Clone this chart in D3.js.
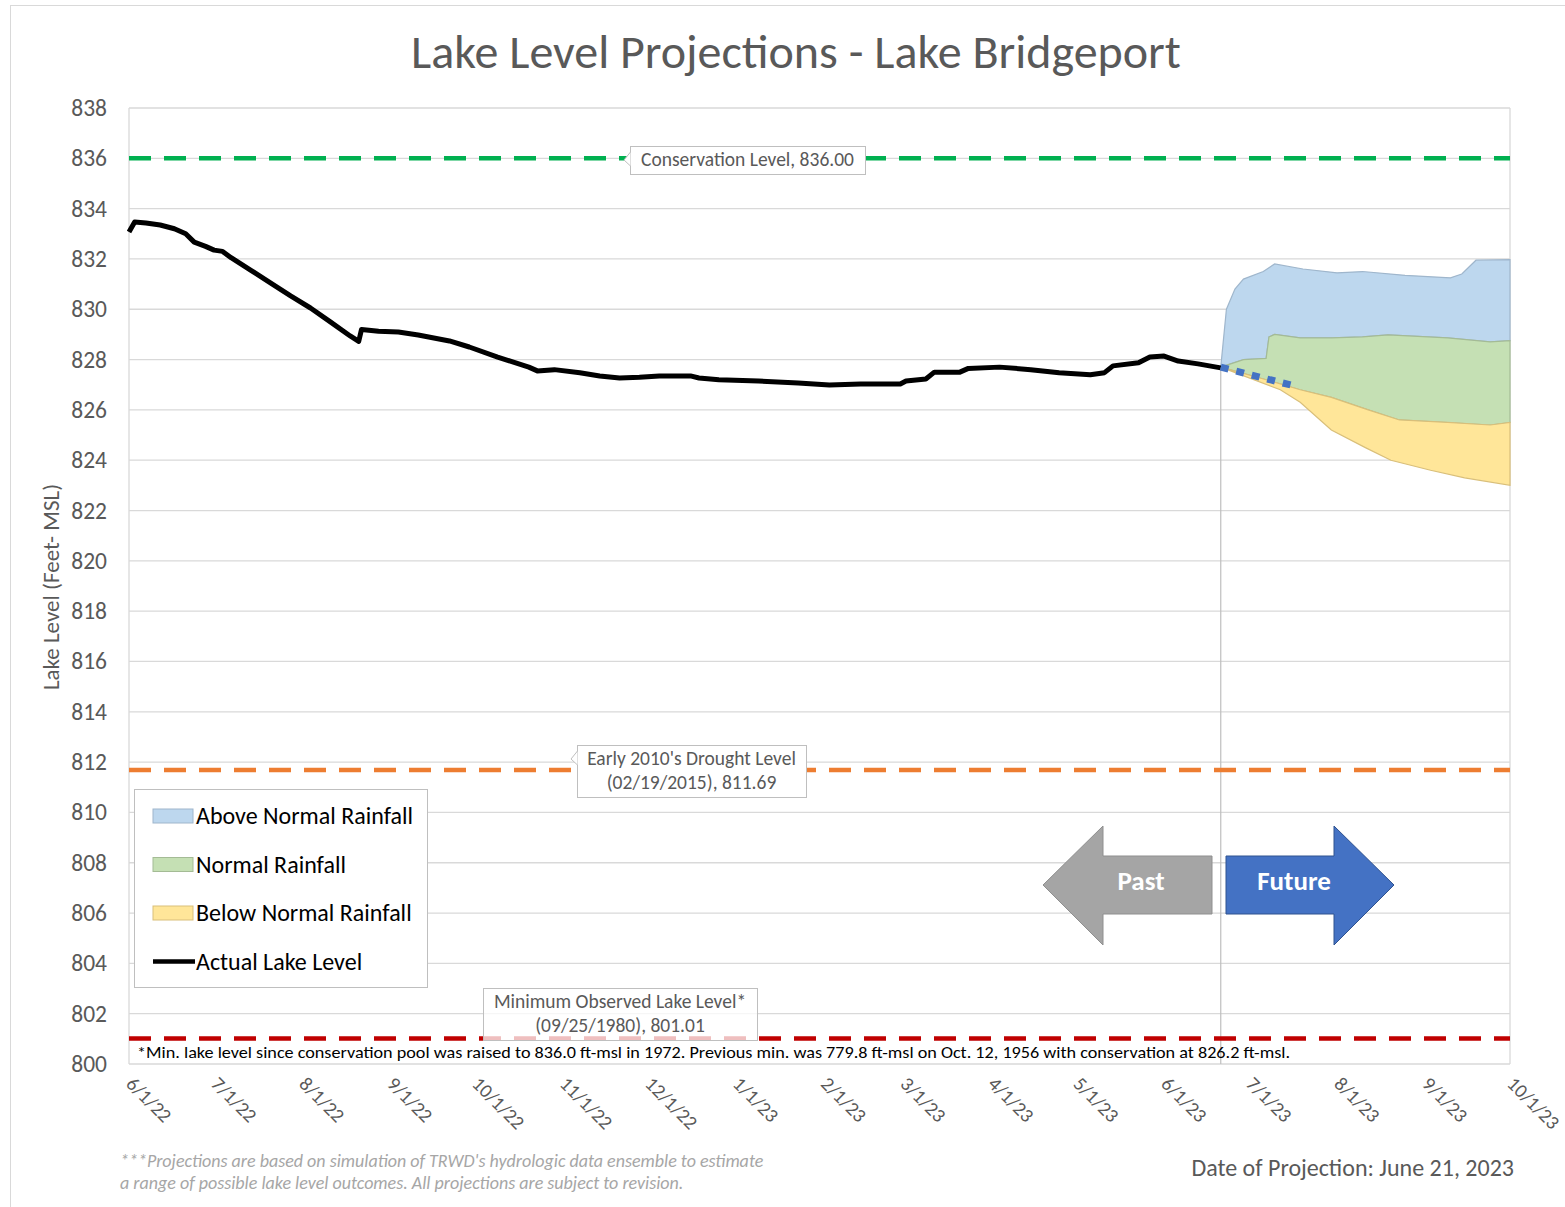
<!DOCTYPE html>
<html>
<head>
<meta charset="utf-8">
<script src="https://cdn.jsdelivr.net/npm/d3@7"></script>
<style>
body { margin: 0; background: #fff; }
text { font-family: Carlito, "Open Sans", sans-serif; }
</style>
</head>
<body>
<svg id="chart"></svg>
<script>
var svg = d3.select("#chart").attr("width", 1565).attr("height", 1207),
    margin = {top: 108, right: 55, bottom: 143, left: 129},
    width = +svg.attr("width") - margin.left - margin.right,
    height = +svg.attr("height") - margin.top - margin.bottom;

var parse = d3.timeParse("%m/%d/%y");

// actual lake level (ft-msl)
var actualLevel = [
	["6/1/22", 833.07], ["6/3/22", 833.47], ["6/7/22", 833.43], ["6/12/22", 833.35],
	["6/17/22", 833.2], ["6/21/22", 833.0], ["6/24/22", 832.67], ["6/28/22", 832.5],
	["7/1/22", 832.35], ["7/4/22", 832.3], ["7/7/22", 832.05], ["7/14/22", 831.55],
	["7/21/22", 831.04], ["7/28/22", 830.53], ["8/4/22", 830.05], ["8/11/22", 829.5],
	["8/18/22", 828.94], ["8/21/22", 828.72], ["8/22/22", 829.2], ["8/28/22", 829.13],
	["9/4/22", 829.1], ["9/11/22", 828.98], ["9/22/22", 828.74], ["9/29/22", 828.5],
	["10/9/22", 828.1], ["10/20/22", 827.7], ["10/23/22", 827.55], ["10/29/22", 827.6],
	["11/7/22", 827.48], ["11/14/22", 827.35], ["11/21/22", 827.27], ["11/28/22", 827.3],
	["12/5/22", 827.35], ["12/16/22", 827.35], ["12/19/22", 827.27], ["12/26/22", 827.2],
	["1/9/23", 827.15], ["1/23/23", 827.07], ["2/3/23", 826.99], ["2/14/23", 827.03],
	["2/28/23", 827.03], ["3/2/23", 827.15], ["3/9/23", 827.23], ["3/12/23", 827.5],
	["3/21/23", 827.5], ["3/24/23", 827.65], ["4/4/23", 827.7], ["4/15/23", 827.6],
	["4/25/23", 827.48], ["5/6/23", 827.4], ["5/11/23", 827.48], ["5/14/23", 827.75],
	["5/23/23", 827.87], ["5/27/23", 828.1], ["6/1/23", 828.14], ["6/6/23", 827.94],
	["6/13/23", 827.83], ["6/21/23", 827.67]
];

// projection band edges
var aboveTop = [
	["6/21/23", 827.7], ["6/23/23", 830.0], ["6/26/23", 830.8], ["6/29/23", 831.2],
	["7/6/23", 831.5], ["7/10/23", 831.8], ["7/20/23", 831.6], ["8/1/23", 831.45],
	["8/10/23", 831.5], ["8/25/23", 831.35], ["9/10/23", 831.25], ["9/14/23", 831.4],
	["9/19/23", 831.95], ["10/1/23", 831.97]
];
var normalTop = [
	["6/21/23", 827.7], ["6/29/23", 828.0], ["7/7/23", 828.05], ["7/8/23", 828.9],
	["7/10/23", 829.0], ["7/19/23", 828.86], ["7/30/23", 828.86], ["8/10/23", 828.9],
	["8/19/23", 828.98], ["9/9/23", 828.86], ["9/24/23", 828.7], ["10/1/23", 828.75]
];
var normalBottom = [
	["6/21/23", 827.7], ["7/7/23", 827.2], ["7/19/23", 826.8], ["7/30/23", 826.5],
	["8/12/23", 826.0], ["8/23/23", 825.6], ["9/9/23", 825.5], ["9/24/23", 825.4],
	["10/1/23", 825.5]
];
var belowBottom = [
	["6/21/23", 827.7], ["7/12/23", 826.8], ["7/19/23", 826.3], ["7/30/23", 825.2],
	["8/11/23", 824.5], ["8/20/23", 824.0], ["9/3/23", 823.6], ["9/15/23", 823.3],
	["10/1/23", 823.0]
];
var nearTerm = [["6/21/23", 827.7], ["7/17/23", 826.95]];

var projectionDate = "6/21/23";
var refLevels = [
	{value: 836.00, color: "#00b050", lines: ["Conservation Level, 836.00"]},
	{value: 811.69, color: "#ed7d31", lines: ["Early 2010's Drought Level", "(02/19/2015), 811.69"]},
	{value: 801.01, color: "#c00000", lines: ["Minimum Observed Lake Level*", "(09/25/1980), 801.01"]}
];
var xTicks = ["6/1/22", "7/1/22", "8/1/22", "9/1/22", "10/1/22", "11/1/22", "12/1/22", "1/1/23",
	"2/1/23", "3/1/23", "4/1/23", "5/1/23", "6/1/23", "7/1/23", "8/1/23", "9/1/23", "10/1/23"];
var yTicks = d3.range(800, 839, 2);
var legendNames = ["Above Normal Rainfall", "Normal Rainfall", "Below Normal Rainfall", "Actual Lake Level"];
var bandFills = ["#bdd7ee", "#c5e0b4", "#ffe699"];
var bandStrokes = ["#9fb6cc", "#a4bb95", "#d9bf7a"];

var xScale = d3.scaleTime()
	.domain([parse("6/1/22"), parse("10/1/23")])
	.range([0, width]);

var yScale = d3.scaleLinear()
	.domain([800, 838])
	.range([height, 0]);

// outer frame
svg.append("rect")
	.attr("x", 10.5).attr("y", 5.5)
	.attr("width", 1600).attr("height", 1250)
	.attr("fill", "none")
	.attr("stroke", "#d9d9d9");

svg.append("text")
	.attr("x", 796).attr("y", 68)
	.attr("text-anchor", "middle")
	.attr("font-size", 48)
	.attr("fill", "#595959")
	.text("Lake Level Projections - Lake Bridgeport");

var g = svg.append("g")
	.attr("transform", "translate(" + margin.left + "," + margin.top + ")");

// grid
g.selectAll(".grid")
	.data(yTicks)
	.enter()
	.append("line")
		.attr("class", "grid")
		.attr("x1", 0).attr("x2", width)
		.attr("y1", function(d){ return yScale(d); })
		.attr("y2", function(d){ return yScale(d); })
		.attr("stroke", "#d9d9d9")
		.attr("stroke-width", 1.3);

g.append("line")
	.attr("x1", 0).attr("x2", 0).attr("y1", 0).attr("y2", height)
	.attr("stroke", "#d9d9d9").attr("stroke-width", 1.3);
g.append("line")
	.attr("x1", width).attr("x2", width).attr("y1", 0).attr("y2", height)
	.attr("stroke", "#d9d9d9").attr("stroke-width", 1.3);

// y axis labels
g.selectAll(".ylab")
	.data(yTicks)
	.enter()
	.append("text")
		.attr("class", "ylab")
		.attr("x", -22)
		.attr("y", function(d){ return yScale(d) + 8; })
		.attr("text-anchor", "end")
		.attr("font-size", 23.5)
		.attr("fill", "#595959")
		.text(function(d){ return d; });

svg.append("g")
	.attr("transform", "translate(59," + 587 + ")")
	.append("text")
		.attr("transform", "rotate(-90)")
		.attr("text-anchor", "middle")
		.attr("font-size", 23)
		.attr("fill", "#595959")
		.text("Lake Level (Feet- MSL)");

// x labels
g.selectAll(".xlab")
	.data(xTicks)
	.enter()
	.append("text")
		.attr("class", "xlab")
		.attr("transform", function(d){
			return "translate(" + (xScale(parse(d)) - 4) + "," + (height + 21) + ") rotate(45)";
		})
		.attr("font-size", 19.5)
		.attr("fill", "#595959")
		.text(function(d){ return d; });

// projection bands
function pts(arr){
	return arr.map(function(d){ return [xScale(parse(d[0])), yScale(d[1])]; });
}
var bandLine = d3.line();
var bands = [
	{top: aboveTop, bottom: normalTop},
	{top: normalTop, bottom: normalBottom},
	{top: normalBottom, bottom: belowBottom}
];
g.selectAll(".band")
	.data(bands)
	.enter()
	.append("path")
		.attr("class", "band")
		.attr("d", function(d){
			return bandLine(pts(d.top).concat(pts(d.bottom).reverse())) + "Z";
		})
		.attr("fill", function(d, i){ return bandFills[i]; })
		.attr("stroke", function(d, i){ return bandStrokes[i]; })
		.attr("stroke-width", 1.2);

// projection date marker
var projX = xScale(parse(projectionDate));
g.append("line")
	.attr("x1", projX).attr("x2", projX)
	.attr("y1", yScale(827.7)).attr("y2", height)
	.attr("stroke", "#bfbfbf").attr("stroke-width", 1.2);

// reference levels
g.selectAll(".ref")
	.data(refLevels)
	.enter()
	.append("line")
		.attr("class", "ref")
		.attr("x1", 0).attr("x2", width)
		.attr("y1", function(d){ return yScale(d.value); })
		.attr("y2", function(d){ return yScale(d.value); })
		.attr("stroke", function(d){ return d.color; })
		.attr("stroke-width", 4.5)
		.attr("stroke-dasharray", "22,13");

// actual level
var line = d3.line()
	.x(function(d){ return xScale(parse(d[0])); })
	.y(function(d){ return yScale(d[1]); });

g.append("path")
	.datum(actualLevel)
	.attr("d", line)
	.attr("fill", "none")
	.attr("stroke", "#000")
	.attr("stroke-width", 5)
	.attr("stroke-linejoin", "round");

g.append("path")
	.datum(nearTerm)
	.attr("d", line)
	.attr("fill", "none")
	.attr("stroke", "#4472c4")
	.attr("stroke-width", 7)
	.attr("stroke-dasharray", "8,8");

// reference labels
var boxes = [
	{x: 630, y: 146, w: 235, h: 28},
	{x: 577, y: 745, w: 229, h: 52},
	{x: 483, y: 988, w: 274, h: 52}
];
refLevels.forEach(function(r, i){
	var b = boxes[i];
	var lab = svg.append("g");
	lab.append("rect")
		.attr("x", b.x + 0.5).attr("y", b.y + 0.5)
		.attr("width", b.w).attr("height", b.h)
		.attr("fill", "#fff").attr("fill-opacity", i == 2 ? 0.75 : 1)
		.attr("stroke", "#bfbfbf");
	if (i < 2)
		lab.append("path")
			.attr("d", "M" + (b.x + 0.5) + "," + (b.y + 6) + " L" + (b.x - 6) + "," + (b.y + 14) + " L" + (b.x + 0.5) + "," + (b.y + 20))
			.attr("fill", "#fff")
			.attr("stroke", "#bfbfbf");
	lab.selectAll("text")
		.data(r.lines)
		.enter()
		.append("text")
			.attr("x", b.x + b.w/2)
			.attr("y", function(d, k){ return b.y + 20 + k*24; })
			.attr("text-anchor", "middle")
			.attr("font-size", 19.5)
			.attr("fill", "#595959")
			.text(function(d){ return d; });
});

svg.append("text")
	.attr("x", 137).attr("y", 1058)
	.attr("font-size", 16)
	.attr("fill", "#000")
	.attr("textLength", 1153)
	.attr("lengthAdjust", "spacingAndGlyphs")
	.text("*Min. lake level since conservation pool was raised to 836.0 ft-msl in 1972.  Previous min. was 779.8 ft-msl on Oct. 12, 1956 with conservation at 826.2 ft-msl.");

// legend
var legend = svg.append("g").attr("transform", "translate(134,789)");
legend.append("rect")
	.attr("x", 0.5).attr("y", 0.5)
	.attr("width", 293).attr("height", 198)
	.attr("fill", "#fff")
	.attr("stroke", "#bfbfbf");
var item = legend.selectAll(".legend")
	.data(legendNames)
	.enter()
	.append("g")
		.attr("class", "legend")
		.attr("transform", function(d, i){ return "translate(0," + (27 + i*48.5) + ")"; });
item.append("rect")
	.filter(function(d, i){ return i < 3; })
	.attr("x", 19).attr("y", -7)
	.attr("width", 40).attr("height", 14)
	.attr("fill", function(d, i){ return bandFills[i]; })
	.attr("stroke", function(d, i){ return bandStrokes[i]; });
item.filter(function(d, i){ return i == 3; })
	.append("line")
	.attr("x1", 19).attr("x2", 61)
	.attr("stroke", "#000").attr("stroke-width", 4.5);
item.append("text")
	.attr("x", 62).attr("y", 8)
	.attr("font-size", 24)
	.attr("fill", "#000")
	.text(function(d){ return d; });

// past / future arrows
svg.append("path")
	.attr("d", "M1043,885 L1103,826 L1103,856 L1212,856 L1212,914 L1103,914 L1103,945 Z")
	.attr("fill", "#a5a5a5").attr("stroke", "#8f8f8f");
svg.append("path")
	.attr("d", "M1226,856 L1334,856 L1334,826 L1394,885 L1334,945 L1334,914 L1226,914 Z")
	.attr("fill", "#4472c4").attr("stroke", "#2f528f");
svg.append("text")
	.attr("x", 1141).attr("y", 890)
	.attr("text-anchor", "middle")
	.attr("font-size", 27).attr("font-weight", "bold")
	.attr("fill", "#fff")
	.text("Past");
svg.append("text")
	.attr("x", 1294).attr("y", 890)
	.attr("text-anchor", "middle")
	.attr("font-size", 27).attr("font-weight", "bold")
	.attr("fill", "#fff")
	.text("Future");

// notes
svg.append("text")
	.attr("x", 120).attr("y", 1167)
	.attr("font-size", 18).attr("font-style", "italic")
	.attr("fill", "#a6a6a6")
	.text("***Projections are based on simulation of TRWD's hydrologic data ensemble to estimate");
svg.append("text")
	.attr("x", 120).attr("y", 1189)
	.attr("font-size", 18).attr("font-style", "italic")
	.attr("fill", "#a6a6a6")
	.text("a range of possible lake level outcomes.  All projections are subject to revision.");
svg.append("text")
	.attr("x", 1514).attr("y", 1176)
	.attr("text-anchor", "end")
	.attr("font-size", 24)
	.attr("fill", "#595959")
	.text("Date of Projection: June 21, 2023");
</script>
</body>
</html>
